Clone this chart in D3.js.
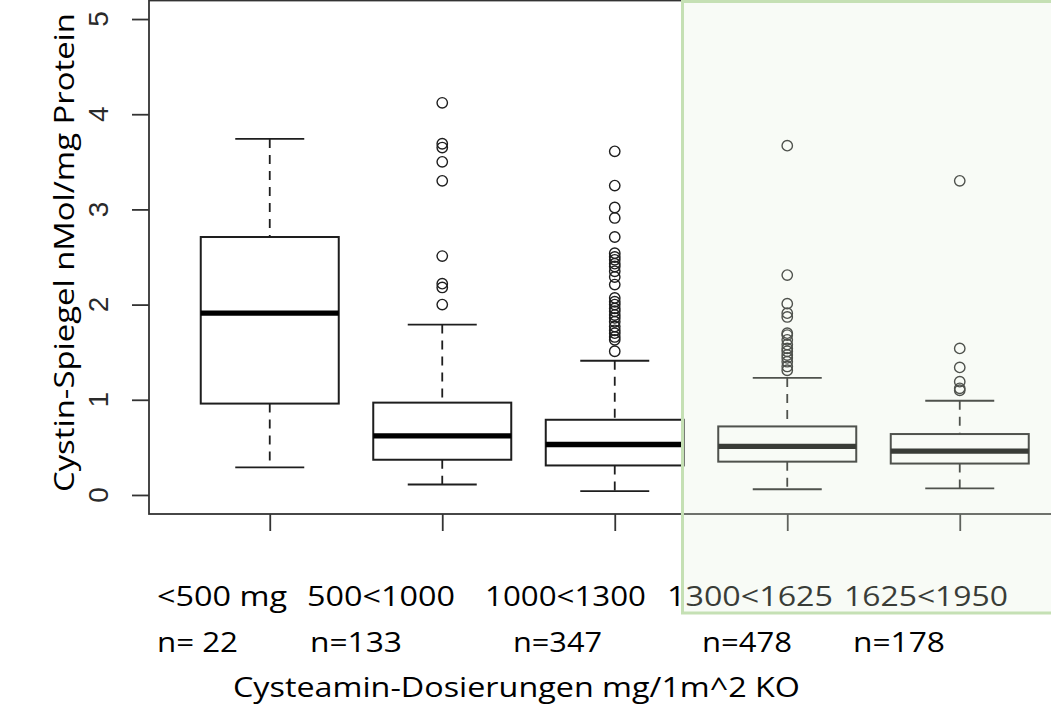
<!DOCTYPE html>
<html>
<head>
<meta charset="utf-8">
<script src="https://cdn.jsdelivr.net/npm/d3@7"></script>
<style>
  html, body { margin: 0; padding: 0; background: #ffffff; }
  svg { display: block; }
</style>
</head>
<body>
<script>
// ---------------- data ----------------
const categories = ["<500 mg", "500<1000", "1000<1300", "1300<1625", "1625<1950"];
const nLabels = ["n= 22", "n=133", "n=347", "n=478", "n=178"];
const lowerWhisker = [0.29, 0.11, 0.04, 0.06, 0.07];
const q1 = [0.96, 0.37, 0.31, 0.35, 0.33];
const median = [1.91, 0.62, 0.53, 0.51, 0.46];
const q3 = [2.71, 0.97, 0.79, 0.72, 0.64];
const upperWhisker = [3.74, 1.79, 1.41, 1.23, 0.99];
const outliers1 = [];
const outliers2 = [4.12, 3.69, 3.65, 3.50, 3.30, 2.51, 2.22, 2.18, 2.00];
const outliers3 = [3.61, 3.25, 3.02, 2.91, 2.71, 2.54, 2.50, 2.47, 2.43, 2.40, 2.35, 2.29, 2.21,
                   2.07, 2.03, 2.00, 1.96, 1.93, 1.89, 1.86, 1.82, 1.77, 1.73, 1.70, 1.66, 1.63, 1.51];
const outliers4 = [3.67, 2.31, 2.01, 1.91, 1.87, 1.70, 1.68, 1.63, 1.58, 1.54, 1.51, 1.47, 1.44, 1.40, 1.35, 1.31];
const outliers5 = [3.30, 1.54, 1.34, 1.19, 1.12, 1.10];
const yTicks = [0, 1, 2, 3, 4, 5];
const yTitle = "Cystin-Spiegel nMol/mg Protein";
const xTitle = "Cysteamin-Dosierungen mg/1m^2 KO";

// ---------------- layout ----------------
const W = 1051, H = 728;
const frame = { left: 149, top: 0.5, right: 1080.5, bottom: 514 };
const catLabelX = [157, 307, 485, 667, 844];
const catLabelW = [130, 148, 161, 166, 164];
const nLabelX = [157, 310, 513, 702, 853];
const nLabelW = [81, 92, 89, 90, 92];
const ink = "#1e1e1e";
const textFont = "'Open Sans', Lato, sans-serif";

const svg = d3.select("body").append("svg").attr("width", W).attr("height", H);

const x = d3.scaleLinear().domain([0.3, 5.7]).range([frame.left, frame.right]);
const y = d3.scaleLinear().domain([-0.2, 5.2]).range([frame.bottom, 0]);
const step = x(2) - x(1);
const boxW = 0.8 * step, capW = 0.4 * step;

const outliers = [outliers1, outliers2, outliers3, outliers4, outliers5];
const groups = categories.map((c, i) => ({
  cat: c, pos: i + 1,
  lw: lowerWhisker[i], q1: q1[i], med: median[i], q3: q3[i], uw: upperWhisker[i],
  out: outliers[i]
}));

// ---------------- axes ----------------
const yAxis = d3.axisLeft(y).tickValues(yTicks).tickSize(17).tickFormat("");
const gy = svg.append("g").attr("transform", `translate(${frame.left},0)`).call(yAxis);
gy.select(".domain").remove();
gy.selectAll(".tick line").attr("stroke", "#333").attr("stroke-width", 1.8);

const xAxis = d3.axisBottom(x).tickValues(groups.map(g => g.pos)).tickSize(17).tickFormat("");
const gx = svg.append("g").attr("transform", `translate(0,${frame.bottom})`).call(xAxis);
gx.select(".domain").remove();
gx.selectAll(".tick line").attr("stroke", "#333").attr("stroke-width", 1.8);

// y tick labels (rotated, R style)
svg.append("g").selectAll("text").data(yTicks).join("text")
  .attr("transform", d => `translate(108,${y(d)}) rotate(-90)`)
  .attr("text-anchor", "middle")
  .attr("font-family", "'Liberation Sans', Arial, sans-serif")
  .attr("font-size", 28)
  .attr("fill", "#2a2a2a")
  .text(d => d);

// frame
svg.append("rect")
  .attr("x", frame.left).attr("y", frame.top)
  .attr("width", frame.right - frame.left).attr("height", frame.bottom - frame.top)
  .attr("fill", "none").attr("stroke", "#333").attr("stroke-width", 1.8);

// ---------------- boxes ----------------
const gb = svg.append("g").selectAll("g").data(groups).join("g")
  .attr("transform", d => `translate(${x(d.pos)},0)`);

// whiskers
gb.append("line").attr("x1", 0).attr("x2", 0)
  .attr("y1", d => y(d.uw)).attr("y2", d => y(d.q3))
  .attr("stroke", ink).attr("stroke-width", 1.8).attr("stroke-dasharray", "9,7");
gb.append("line").attr("x1", 0).attr("x2", 0)
  .attr("y1", d => y(d.q1)).attr("y2", d => y(d.lw))
  .attr("stroke", ink).attr("stroke-width", 1.8).attr("stroke-dasharray", "9,7");
// caps
gb.append("line").attr("x1", -capW / 2).attr("x2", capW / 2)
  .attr("y1", d => y(d.uw)).attr("y2", d => y(d.uw))
  .attr("stroke", ink).attr("stroke-width", 1.8);
gb.append("line").attr("x1", -capW / 2).attr("x2", capW / 2)
  .attr("y1", d => y(d.lw)).attr("y2", d => y(d.lw))
  .attr("stroke", ink).attr("stroke-width", 1.8);
// box
gb.append("rect")
  .attr("x", -boxW / 2).attr("width", boxW)
  .attr("y", d => y(d.q3)).attr("height", d => y(d.q1) - y(d.q3))
  .attr("fill", "none").attr("stroke", ink).attr("stroke-width", 2);
// median
gb.append("line").attr("x1", -boxW / 2).attr("x2", boxW / 2)
  .attr("y1", d => y(d.med)).attr("y2", d => y(d.med))
  .attr("stroke", "#000").attr("stroke-width", 5.3);
// outliers
gb.selectAll("circle").data(d => d.out).join("circle")
  .attr("cx", 0).attr("cy", d => y(d)).attr("r", 5.2)
  .attr("fill", "none").attr("stroke", ink).attr("stroke-width", 1.4);

// ---------------- text below ----------------
svg.append("g").selectAll("text").data(categories).join("text")
  .attr("x", (d, i) => catLabelX[i]).attr("y", 606)
  .attr("textLength", (d, i) => catLabelW[i]).attr("lengthAdjust", "spacingAndGlyphs")
  .attr("font-family", textFont).attr("font-size", 27).attr("fill", "#000")
  .text(d => d);

svg.append("g").selectAll("text").data(nLabels).join("text")
  .attr("x", (d, i) => nLabelX[i]).attr("y", 652)
  .attr("textLength", (d, i) => nLabelW[i]).attr("lengthAdjust", "spacingAndGlyphs")
  .attr("font-family", textFont).attr("font-size", 27).attr("fill", "#000")
  .text(d => d);

svg.append("text")
  .attr("x", 233).attr("y", 697)
  .attr("textLength", 567).attr("lengthAdjust", "spacingAndGlyphs")
  .attr("font-family", textFont).attr("font-size", 28).attr("fill", "#000")
  .text(xTitle);

// y title
svg.append("text")
  .attr("transform", "translate(74,252.5) rotate(-90)")
  .attr("text-anchor", "middle")
  .attr("textLength", 479).attr("lengthAdjust", "spacingAndGlyphs")
  .attr("font-family", textFont).attr("font-size", 27).attr("fill", "#000")
  .text(yTitle);

// ---------------- highlight overlay ----------------
svg.append("rect")
  .attr("x", 682.5).attr("y", 1.5).attr("width", 420).attr("height", 611.5)
  .attr("fill", "#e2efda").attr("fill-opacity", 0.25)
  .attr("stroke", "#c5e0b4").attr("stroke-width", 3);
</script>
</body>
</html>
